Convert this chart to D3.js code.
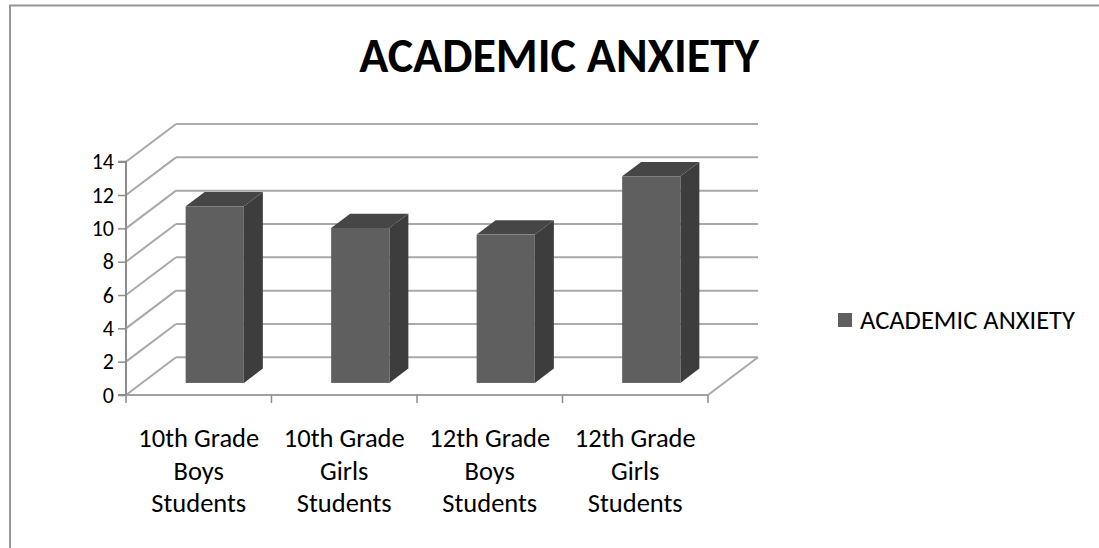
<!DOCTYPE html>
<html>
<head>
<meta charset="utf-8">
<script src="https://cdn.jsdelivr.net/npm/d3@7"></script>
<style>
  html, body { margin: 0; padding: 0; background: #fff; }
  svg { display: block; }
  text { font-family: Carlito, Calibri, Lato, "Open Sans", sans-serif; fill: #000; }
</style>
</head>
<body>
<svg id="chart" width="1099" height="548"></svg>
<script>
// ---- data ----
const title = "ACADEMIC ANXIETY";
const seriesName = "ACADEMIC ANXIETY";
const categories = ["10th Grade Boys Students", "10th Grade Girls Students", "12th Grade Boys Students", "12th Grade Girls Students"];
const categoryLines = [["10th Grade", "Boys", "Students"], ["10th Grade", "Girls", "Students"], ["12th Grade", "Boys", "Students"], ["12th Grade", "Girls", "Students"]];
const values = [10.6, 9.3, 8.9, 12.4];
const yTicks = [0, 2, 4, 6, 8, 10, 12, 14];

// ---- layout ----
const W = 1099, H = 548;
const svg = d3.select("#chart");
const plot = { left: 126, right: 708, bottom: 395, top: 161.7 };
const depth = { dx: 50, dy: -37.7 };     // back-wall offset
const barDepth = { f0: 0.32, f1: 0.70 }; // bar depth fractions
const barWidthFrac = 0.40;

const x = d3.scaleBand().domain(categories).range([plot.left, plot.right]).padding(0);
const y = d3.scaleLinear().domain([0, 14]).range([plot.bottom, plot.top]);

const gridColor = "#a9a9a9";

// chart border
svg.append("path")
  .attr("d", `M10,${H} L10,5.5 L${W},5.5`)
  .attr("fill", "none").attr("stroke", "#969696").attr("stroke-width", 2);

// title
svg.append("text")
  .attr("x", 559).attr("y", 72)
  .attr("text-anchor", "middle")
  .attr("font-size", 48).attr("font-weight", "bold")
  .text(title);

const g = svg.append("g");

// back wall gridlines
g.selectAll("line.bgrid").data(yTicks).join("line")
  .attr("x1", plot.left + depth.dx).attr("x2", plot.right + depth.dx)
  .attr("y1", d => y(d) + depth.dy).attr("y2", d => y(d) + depth.dy)
  .attr("stroke", gridColor).attr("stroke-width", 2);

// side wall diagonals
g.selectAll("line.sgrid").data(yTicks).join("line")
  .attr("x1", plot.left).attr("x2", plot.left + depth.dx)
  .attr("y1", d => y(d)).attr("y2", d => y(d) + depth.dy)
  .attr("stroke", gridColor).attr("stroke-width", 2);

// floor right edge
g.append("line")
  .attr("x1", plot.right).attr("y1", y(0))
  .attr("x2", plot.right + depth.dx).attr("y2", y(0) + depth.dy)
  .attr("stroke", gridColor).attr("stroke-width", 2);

// bars
const bw = x.bandwidth() * barWidthFrac;
const fdx = depth.dx * barDepth.f0, fdy = depth.dy * barDepth.f0;
const bdx = depth.dx * (barDepth.f1 - barDepth.f0), bdy = depth.dy * (barDepth.f1 - barDepth.f0);
const bars = g.selectAll("g.bar").data(categories.map((c, i) => ({ c, v: values[i] }))).join("g");
bars.each(function(d) {
  const sel = d3.select(this);
  const x0 = x(d.c) + (x.bandwidth() - bw) / 2 + fdx;
  const x1 = x0 + bw;
  const yb = y(0) + fdy, yt = y(d.v) + fdy;
  // side
  sel.append("path")
    .attr("d", `M${x1},${yt} L${x1 + bdx},${yt + bdy} L${x1 + bdx},${yb + bdy} L${x1},${yb} Z`)
    .attr("fill", "#3d3d3d");
  // top
  sel.append("path")
    .attr("d", `M${x0},${yt} L${x0 + bdx},${yt + bdy} L${x1 + bdx},${yt + bdy} L${x1},${yt} Z`)
    .attr("fill", "#464646");
  // front
  sel.append("rect")
    .attr("x", x0).attr("y", yt).attr("width", bw).attr("height", yb - yt)
    .attr("fill", "#5f5f5f");
});

// left axis
const yAxis = d3.axisLeft(y).tickValues(yTicks).tickSize(8).tickPadding(4);
const ya = svg.append("g").attr("transform", `translate(${plot.left},0)`).call(yAxis);
ya.select(".domain").attr("stroke", "#8c8c8c").attr("stroke-width", 2).attr("d", `M-8,${y(14)}H0V${y(0)}H-8`);
ya.selectAll(".tick line").attr("stroke", "#8c8c8c").attr("stroke-width", 1.5);
ya.selectAll(".tick text").attr("font-size", 22).attr("fill", "#000")
  .attr("font-family", "Carlito, Calibri, Lato, sans-serif");

// bottom axis
const edges = categories.map(c => x(c)).concat([plot.right]);
const xa = svg.append("g");
xa.append("line").attr("x1", plot.left).attr("x2", plot.right)
  .attr("y1", y(0)).attr("y2", y(0)).attr("stroke", "#a0a0a0").attr("stroke-width", 2);
xa.selectAll("line.tk").data(edges).join("line")
  .attr("x1", d => d).attr("x2", d => d)
  .attr("y1", y(0)).attr("y2", y(0) + 8)
  .attr("stroke", "#8c8c8c").attr("stroke-width", 1.5);

// category labels
const lab = svg.append("g");
categories.forEach((c, i) => {
  const t = lab.append("text")
    .attr("x", x(c) + x.bandwidth() / 2)
    .attr("y", 447)
    .attr("text-anchor", "middle")
    .attr("font-size", 26.5);
  categoryLines[i].forEach((ln, j) => {
    t.append("tspan").attr("x", x(c) + x.bandwidth() / 2).attr("dy", j === 0 ? 0 : 32.5).text(ln);
  });
});

// legend
const lg = svg.append("g").attr("transform", "translate(838,313)");
lg.append("rect").attr("width", 14).attr("height", 14).attr("fill", "#5f5f5f");
lg.append("text").attr("x", 22).attr("y", 16).attr("font-size", 26.5).text(seriesName);
</script>
</body>
</html>
